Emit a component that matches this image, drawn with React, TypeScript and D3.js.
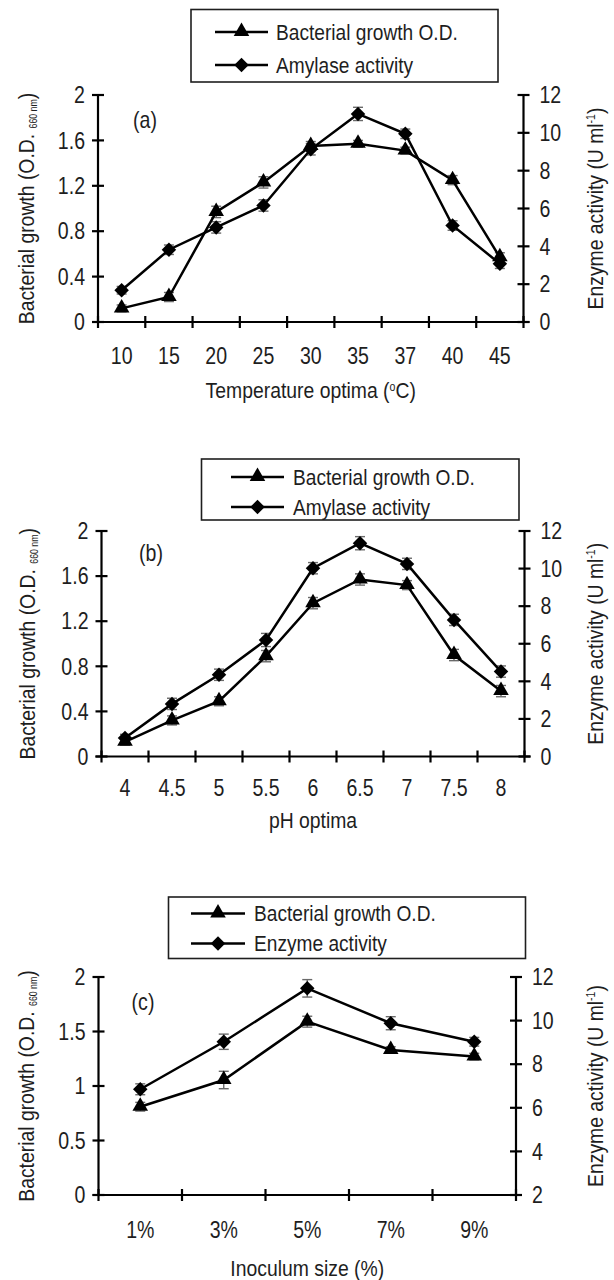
import React from "react";
import * as d3 from "d3";

// ---------- DATA ----------
const tempCategories = ["10", "15", "20", "25", "30", "35", "37", "40", "45"];
const tempGrowth = [0.12, 0.22, 0.97, 1.23, 1.55, 1.57, 1.51, 1.25, 0.57];
const tempGrowthErr = [0.03, 0.04, 0.05, 0.05, 0.04, 0.03, 0.03, 0.04, 0.04];
const tempEnzyme = [1.68, 3.82, 5.0, 6.16, 9.13, 11.0, 9.95, 5.1, 3.08];
const tempEnzymeErr = [0.2, 0.25, 0.3, 0.3, 0.3, 0.35, 0.25, 0.25, 0.25];

const phCategories = ["4", "4.5", "5", "5.5", "6", "6.5", "7", "7.5", "8"];
const phGrowth = [0.13, 0.32, 0.49, 0.89, 1.36, 1.57, 1.52, 0.9, 0.58];
const phGrowthErr = [0.03, 0.04, 0.04, 0.05, 0.05, 0.05, 0.04, 0.05, 0.05];
const phEnzyme = [0.98, 2.8, 4.35, 6.2, 10.02, 11.35, 10.25, 7.27, 4.52];
const phEnzymeErr = [0.2, 0.3, 0.3, 0.35, 0.3, 0.35, 0.3, 0.3, 0.3];

const inocCategories = ["1%", "3%", "5%", "7%", "9%"];
const inocGrowth = [0.81, 1.055, 1.59, 1.33, 1.27];
const inocGrowthErr = [0.04, 0.08, 0.05, 0.03, 0.03];
const inocEnzyme = [6.85, 9.03, 11.48, 9.88, 9.03];
const inocEnzymeErr = [0.25, 0.35, 0.4, 0.3, 0.2];

const ticks04 = [0, 0.4, 0.8, 1.2, 1.6, 2];
const ticks05 = [0, 0.5, 1, 1.5, 2];
const ticksEnzA = [0, 2, 4, 6, 8, 10, 12];
const ticksEnzC = [2, 4, 6, 8, 10, 12];

const FONT = "'Liberation Sans', Arial, sans-serif";
const INK = "#1e1e1e";
const SX = 0.85; // horizontal condensation to mimic a narrow face

type PanelCfg = {
  categories: string[];
  growth: number[];
  growthErr: number[];
  enzyme: number[];
  enzymeErr: number[];
  leftDomain: [number, number];
  rightDomain: [number, number];
  leftTicks: number[];
  rightTicks: number[];
  legendLabels: [string, string];
  tag: string;
  xTitle: React.ReactNode;
  L: {
    x0: number; x1: number; yTop: number; yBottom: number;
    lgX0: number; lgX1: number; lgY0: number; lgY1: number; lgRows: [number, number];
    lgLine0: number; lgLine1: number; lgText: number;
    tagX: number; tagY: number; xLabY: number; xTitleY: number;
    leftTitleX: number; rightTitleX: number;
  };
};

const triPath = d3.symbol().type(d3.symbolTriangle).size(105)() as string;
const diaPath = d3.symbol().type(d3.symbolSquare).size(105)() as string;

function Tri({ x, y }: { x: number; y: number }) {
  return <path d={triPath} transform={`translate(${x},${y - 0.5})`} fill="#000" />;
}
function Dia({ x, y }: { x: number; y: number }) {
  return <path d={diaPath} transform={`translate(${x},${y}) rotate(45)`} fill="#000" />;
}

function T({ x, y, size, anchor = "start", rot = 0, sx = SX, children }: { x: number; y: number; size: number; anchor?: string; rot?: number; sx?: number; children: React.ReactNode }) {
  return (
    <text transform={`translate(${x},${y}) rotate(${rot}) scale(${sx},1)`} dy="0.36em" textAnchor={anchor} fontSize={size}>
      {children}
    </text>
  );
}

function Panel({ cfg }: { cfg: PanelCfg }) {
  const { L } = cfg;
  const xb = d3.scaleBand<string>().domain(cfg.categories).range([L.x0, L.x1]);
  const yl = d3.scaleLinear().domain(cfg.leftDomain).range([L.yBottom, L.yTop]);
  const yr = d3.scaleLinear().domain(cfg.rightDomain).range([L.yBottom, L.yTop]);
  const cx = (c: string) => (xb(c) as number) + xb.bandwidth() / 2;
  const edges = [...cfg.categories.map((c) => xb(c) as number), L.x1];
  const gPath = d3.line<number>().x((_, i) => cx(cfg.categories[i])).y((v) => yl(v))(cfg.growth) as string;
  const ePath = d3.line<number>().x((_, i) => cx(cfg.categories[i])).y((v) => yr(v))(cfg.enzyme) as string;
  const tk = 6;
  const cap = 5;
  const midY = (L.yTop + L.yBottom) / 2;
  return (
    <g fontFamily={FONT} fill={INK}>
      {/* legend */}
      <rect x={L.lgX0} y={L.lgY0} width={L.lgX1 - L.lgX0} height={L.lgY1 - L.lgY0} fill="#fff" stroke={INK} strokeWidth={1.6} />
      {cfg.legendLabels.map((lab, i) => (
        <g key={lab}>
          <line x1={L.lgLine0} x2={L.lgLine1} y1={L.lgRows[i]} y2={L.lgRows[i]} stroke="#000" strokeWidth={2.5} />
          {i === 0 ? <Tri x={(L.lgLine0 + L.lgLine1) / 2} y={L.lgRows[i]} /> : <Dia x={(L.lgLine0 + L.lgLine1) / 2} y={L.lgRows[i]} />}
          <T x={L.lgText} y={L.lgRows[i]} size={22} sx={0.87}>{lab}</T>
        </g>
      ))}
      {/* axes */}
      <line x1={L.x0} x2={L.x0} y1={L.yTop} y2={L.yBottom} stroke="#000" strokeWidth={2.2} />
      <line x1={L.x1} x2={L.x1} y1={L.yTop} y2={L.yBottom} stroke="#000" strokeWidth={2.2} />
      <line x1={L.x0 - tk} x2={L.x1 + tk} y1={L.yBottom} y2={L.yBottom} stroke="#000" strokeWidth={2.2} />
      {cfg.leftTicks.map((t) => (
        <g key={"l" + t}>
          <line x1={L.x0 - tk} x2={L.x0 + tk} y1={yl(t)} y2={yl(t)} stroke="#000" strokeWidth={2.2} />
          <T x={L.x0 - 13} y={yl(t)} size={23} anchor="end">{String(t)}</T>
        </g>
      ))}
      {cfg.rightTicks.map((t) => (
        <g key={"r" + t}>
          <line x1={L.x1 - tk} x2={L.x1 + tk} y1={yr(t)} y2={yr(t)} stroke="#000" strokeWidth={2.2} />
          <T x={L.x1 + 16} y={yr(t)} size={23}>{String(t)}</T>
        </g>
      ))}
      {edges.map((e, i) => (
        <line key={"x" + i} x1={e} x2={e} y1={L.yBottom - tk} y2={L.yBottom + tk} stroke="#000" strokeWidth={2.2} />
      ))}
      {cfg.categories.map((c) => (
        <T key={"xl" + c} x={cx(c)} y={L.xLabY} size={23} anchor="middle">{c}</T>
      ))}
      <T x={(L.x0 + L.x1) / 2} y={L.xTitleY} size={22} anchor="middle" sx={0.88}>{cfg.xTitle}</T>
      <T x={L.tagX} y={L.tagY} size={23} anchor="middle">{cfg.tag}</T>
      {/* axis titles */}
      <T x={L.leftTitleX} y={midY} size={22} anchor="middle" rot={-90} sx={0.88}>
        Bacterial growth (O.D.{" "}
        <tspan fontSize={10} dy={3}>660 nm</tspan>
        <tspan dy={-3}>)</tspan>
      </T>
      <T x={L.rightTitleX} y={midY} size={22} anchor="middle" rot={-90} sx={0.88}>
        Enzyme activity (U ml
        <tspan fontSize={12} dy={-8}>-1</tspan>
        <tspan dy={8}>)</tspan>
      </T>
      {/* error bars */}
      {cfg.categories.map((c, i) => (
        <g key={"e" + c} stroke="#6a6a6a" strokeWidth={1.4}>
          <line x1={cx(c)} x2={cx(c)} y1={yl(cfg.growth[i] - cfg.growthErr[i])} y2={yl(cfg.growth[i] + cfg.growthErr[i])} />
          <line x1={cx(c) - cap} x2={cx(c) + cap} y1={yl(cfg.growth[i] + cfg.growthErr[i])} y2={yl(cfg.growth[i] + cfg.growthErr[i])} />
          <line x1={cx(c) - cap} x2={cx(c) + cap} y1={yl(cfg.growth[i] - cfg.growthErr[i])} y2={yl(cfg.growth[i] - cfg.growthErr[i])} />
          <line x1={cx(c)} x2={cx(c)} y1={yr(cfg.enzyme[i] - cfg.enzymeErr[i])} y2={yr(cfg.enzyme[i] + cfg.enzymeErr[i])} />
          <line x1={cx(c) - cap} x2={cx(c) + cap} y1={yr(cfg.enzyme[i] + cfg.enzymeErr[i])} y2={yr(cfg.enzyme[i] + cfg.enzymeErr[i])} />
          <line x1={cx(c) - cap} x2={cx(c) + cap} y1={yr(cfg.enzyme[i] - cfg.enzymeErr[i])} y2={yr(cfg.enzyme[i] - cfg.enzymeErr[i])} />
        </g>
      ))}
      <path d={gPath} fill="none" stroke="#000" strokeWidth={2.5} />
      <path d={ePath} fill="none" stroke="#000" strokeWidth={2.5} />
      {cfg.categories.map((c, i) => (
        <g key={"m" + c}>
          <Tri x={cx(c)} y={yl(cfg.growth[i])} />
          <Dia x={cx(c)} y={yr(cfg.enzyme[i])} />
        </g>
      ))}
    </g>
  );
}

const panels: PanelCfg[] = [
  {
    categories: tempCategories, growth: tempGrowth, growthErr: tempGrowthErr, enzyme: tempEnzyme, enzymeErr: tempEnzymeErr,
    leftDomain: [0, 2], rightDomain: [0, 12], leftTicks: ticks04, rightTicks: ticksEnzA,
    legendLabels: ["Bacterial growth O.D.", "Amylase activity"], tag: "(a)",
    xTitle: (<>Temperature optima (<tspan fontSize={12} dy={-7}>o</tspan><tspan dy={7}>C)</tspan></>),
    L: { x0: 98, x1: 523.5, yTop: 95, yBottom: 322, lgX0: 191, lgX1: 498, lgY0: 9.5, lgY1: 82, lgRows: [32, 65],
      lgLine0: 215, lgLine1: 268, lgText: 276, tagX: 145, tagY: 120, xLabY: 356, xTitleY: 390, leftTitleX: 26, rightTitleX: 595 },
  },
  {
    categories: phCategories, growth: phGrowth, growthErr: phGrowthErr, enzyme: phEnzyme, enzymeErr: phEnzymeErr,
    leftDomain: [0, 2], rightDomain: [0, 12], leftTicks: ticks04, rightTicks: ticksEnzA,
    legendLabels: ["Bacterial growth O.D.", "Amylase activity"], tag: "(b)",
    xTitle: "pH optima",
    L: { x0: 101.5, x1: 524.5, yTop: 531, yBottom: 756.5, lgX0: 201.5, lgX1: 519, lgY0: 459, lgY1: 520, lgRows: [477, 507],
      lgLine0: 231, lgLine1: 284, lgText: 293, tagX: 151, tagY: 553, xLabY: 788, xTitleY: 820, leftTitleX: 27, rightTitleX: 595 },
  },
  {
    categories: inocCategories, growth: inocGrowth, growthErr: inocGrowthErr, enzyme: inocEnzyme, enzymeErr: inocEnzymeErr,
    leftDomain: [0, 2], rightDomain: [2, 12], leftTicks: ticks05, rightTicks: ticksEnzC,
    legendLabels: ["Bacterial growth O.D.", "Enzyme activity"], tag: "(c)",
    xTitle: "Inoculum size (%)",
    L: { x0: 98.5, x1: 516, yTop: 977, yBottom: 1195, lgX0: 168.5, lgX1: 525.5, lgY0: 897, lgY1: 958.5, lgRows: [913.5, 943.5],
      lgLine0: 191, lgLine1: 245, lgText: 254, tagX: 143, tagY: 1002, xLabY: 1230, xTitleY: 1268, leftTitleX: 26, rightTitleX: 595 },
  },
];

export default function App() {
  return (
    <svg width={614} height={1280} viewBox="0 0 614 1280" style={{ position: "absolute", left: 0, top: 0, background: "#fff" }}>
      <rect width={614} height={1280} fill="#fff" />
      {panels.map((p) => (
        <Panel key={p.tag} cfg={p} />
      ))}
    </svg>
  );
}
